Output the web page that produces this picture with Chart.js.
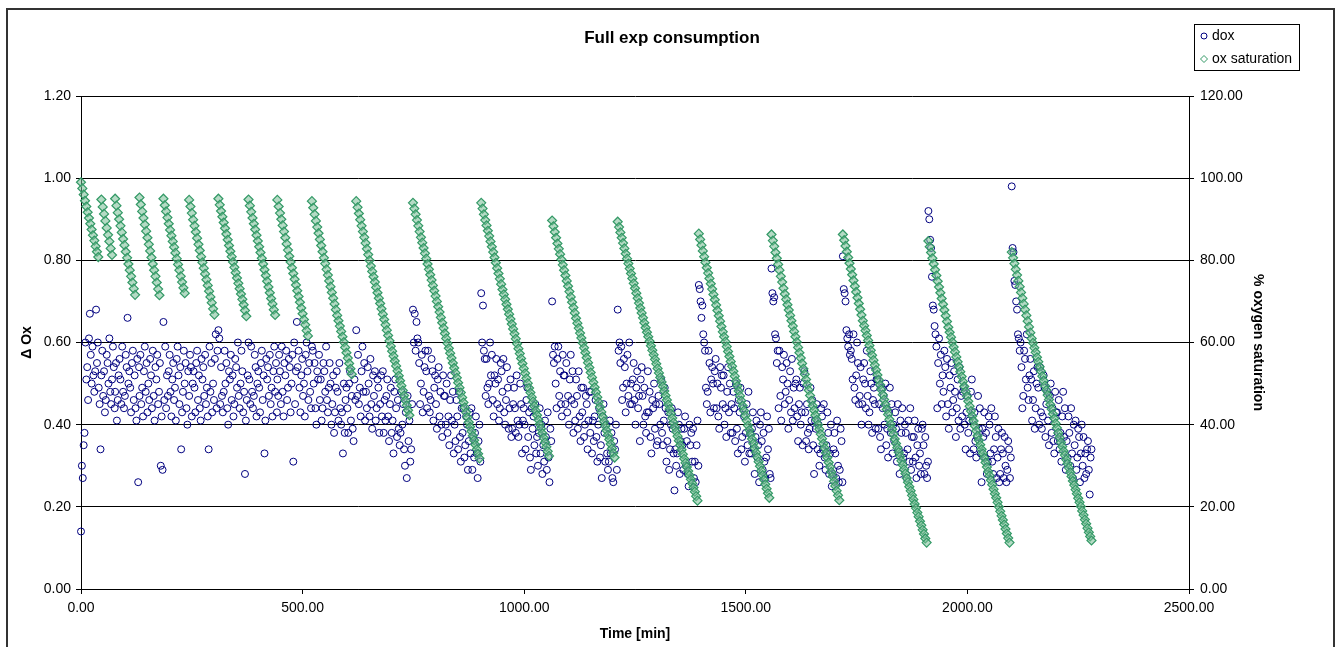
<!DOCTYPE html>
<html>
<head>
<meta charset="utf-8">
<title>Full exp consumption</title>
<script src="https://cdn.jsdelivr.net/npm/chart.js@4.4.1/dist/chart.umd.min.js"></script>
<style>
  html, body { margin: 0; padding: 0; background: #fff; }
  #wrap { width: 1340px; height: 647px; }
</style>
</head>
<body>
<div id="wrap"><canvas id="chart" width="1340" height="647"></canvas></div>
<script>
// Values.
const TITLE = 'Full exp consumption';
const SAT_STEP = 3;   // minutes between plotted saturation readings
const DOX_STEP = 2;   // minutes between plotted dox readings

// start of each measuring cycle [min] (chamber re-oxygenated)
const cycleStart = [0, 46, 77, 132, 186, 244, 310, 378, 443, 521, 621, 749, 903, 1063, 1211, 1394, 1558, 1719, 1912, 2100];

// % oxygen saturation, one list per cycle
const sat01 = [99.0,97.5,96.0,94.5,93.1,91.7,90.3,88.9,87.5,86.1,84.8,83.4,82.1,80.8];
const sat02 = [94.8,93.0,91.3,89.6,87.9,86.2,84.6,82.9,81.3];
const sat03 = [95.0,93.3,91.6,90.0,88.4,86.8,85.2,83.7,82.1,80.6,79.1,77.6,76.1,74.6,73.1,71.6];
const sat04 = [95.3,93.6,91.9,90.3,88.7,87.1,85.5,83.9,82.3,80.7,79.1,77.6,76.1,74.6,73.0,71.5];
const sat05 = [95.0,93.4,91.9,90.4,88.9,87.4,86.0,84.6,83.2,81.8,80.4,79.0,77.6,76.1,74.7,73.3,72.0];
const sat06 = [94.7,93.1,91.5,89.9,88.4,86.9,85.4,83.9,82.4,80.9,79.5,78.1,76.7,75.3,73.9,72.5,71.1,69.7,68.2,66.8];
const sat07 = [95.0,93.5,92.0,90.6,89.2,87.8,86.4,85.0,83.6,82.2,80.9,79.6,78.3,77.0,75.7,74.4,73.1,71.8,70.5,69.2,67.8,66.4];
const sat08 = [94.8,93.3,91.8,90.3,88.9,87.5,86.1,84.7,83.3,81.9,80.5,79.1,77.7,76.3,74.9,73.5,72.1,70.7,69.4,68.0,66.7];
const sat09 = [94.7,93.1,91.5,90.0,88.5,87.0,85.5,84.0,82.5,81.0,79.6,78.2,76.8,75.4,74.0,72.6,71.2,69.8,68.4,67.0,65.6,64.3,62.9,61.6];
const sat10 = [94.4,92.8,91.2,89.6,88.1,86.6,85.1,83.6,82.1,80.6,79.2,77.8,76.4,75.0,73.6,72.2,70.8,69.4,68.0,66.6,
               65.3,64.0,62.7,61.4,60.1,58.8,57.5,56.2,54.9,53.6,52.3];
const sat11 = [94.4,92.9,91.4,89.9,88.4,87.0,85.6,84.2,82.8,81.4,80.0,78.6,77.3,76.0,74.7,73.4,72.1,70.8,69.5,68.2,
               66.9,65.6,64.3,63.0,61.7,60.4,59.1,57.9,56.7,55.5,54.3,53.1,51.9,50.7,49.5,48.3,47.1,45.9,44.7,43.5,42.3];
const sat12 = [94.0,92.6,91.2,89.8,88.4,87.0,85.6,84.3,83.0,81.7,80.4,79.1,77.8,76.5,75.2,73.9,72.6,71.3,70.0,68.7,
               67.4,66.1,64.8,63.5,62.2,61.0,59.8,58.6,57.4,56.2,55.0,53.8,52.6,51.4,50.2,49.0,47.8,46.6,45.4,44.2,
               43.0,41.8,40.6,39.5,38.4,37.3,36.2,35.1,34.0,32.9,31.8];
const sat13 = [94.0,92.6,91.2,89.8,88.5,87.2,85.9,84.6,83.3,82.0,80.7,79.4,78.1,76.8,75.5,74.2,72.9,71.7,70.5,69.3,
               68.1,66.9,65.7,64.5,63.3,62.1,60.9,59.7,58.5,57.3,56.1,54.9,53.7,52.5,51.3,50.1,48.9,47.8,46.7,45.6,
               44.5,43.4,42.3,41.2,40.1,39.0,37.9,36.8,35.7,34.6,33.5,32.4];
const sat14 = [89.7,88.3,86.9,85.5,84.1,82.8,81.5,80.2,78.9,77.6,76.3,75.0,73.7,72.4,71.1,69.8,68.5,67.2,65.9,64.7,
               63.5,62.3,61.1,59.9,58.7,57.5,56.3,55.1,53.9,52.7,51.5,50.3,49.1,47.9,46.7,45.5,44.3,43.1,41.9,40.8,
               39.7,38.6,37.5,36.4,35.3,34.2,33.1,32.0];
const sat15 = [89.4,88.1,86.8,85.5,84.2,82.9,81.6,80.4,79.2,78.0,76.8,75.6,74.4,73.2,72.0,70.8,69.6,68.4,67.2,66.0,
               64.8,63.6,62.5,61.4,60.3,59.2,58.1,57.0,55.9,54.8,53.7,52.6,51.5,50.4,49.3,48.2,47.1,46.0,44.9,43.8,
               42.7,41.6,40.5,39.4,38.3,37.2,36.1,35.0,33.9,32.8,31.7,30.7,29.7,28.7,27.7,26.7,25.7,24.7,23.7,22.6,21.5];
const sat16 = [86.5,85.1,83.7,82.3,80.9,79.5,78.2,76.9,75.6,74.3,73.0,71.7,70.4,69.1,67.8,66.5,65.2,63.9,62.6,61.4,
               60.2,59.0,57.8,56.6,55.4,54.2,53.0,51.8,50.6,49.4,48.2,47.0,45.8,44.6,43.4,42.2,41.0,39.8,38.7,37.6,
               36.5,35.4,34.3,33.2,32.1,31.0,29.9,28.8,27.7,26.6,25.5,24.4,23.3,22.2];
const sat17 = [86.3,84.8,83.4,81.9,80.5,79.0,77.6,76.1,74.7,73.2,71.8,70.5,69.2,67.9,66.6,65.3,64.0,62.7,61.4,60.1,
               58.8,57.5,56.2,54.9,53.6,52.3,51.0,49.7,48.4,47.1,45.8,44.6,43.5,42.3,41.2,40.0,38.9,37.7,36.6,35.4,
               34.3,33.1,32.0,30.8,29.7,28.5,27.4,26.2,25.1,23.9,22.8,21.6];
const sat18 = [86.3,84.9,83.5,82.1,80.7,79.3,77.9,76.5,75.1,73.7,72.3,70.9,69.5,68.1,66.7,65.3,64.1,62.9,61.7,60.5,
               59.3,58.1,56.9,55.7,54.5,53.3,52.1,50.9,49.7,48.5,47.3,46.1,44.9,43.7,42.5,41.3,40.1,38.9,37.7,36.5,
               35.4,34.4,33.3,32.3,31.2,30.2,29.1,28.1,27.0,26.0,24.9,23.9,22.8,21.8,20.7,19.7,18.6,17.6,16.5,15.5,
               14.4,13.4,12.3,11.3];
const sat19 = [84.7,83.3,81.9,80.5,79.1,77.7,76.3,74.9,73.5,72.1,70.7,69.3,67.9,66.5,65.1,63.7,62.5,61.3,60.1,58.9,
               57.7,56.5,55.3,54.1,52.9,51.7,50.5,49.3,48.1,46.9,45.7,44.5,43.3,42.1,40.9,39.7,38.5,37.3,36.2,35.1,
               34.0,33.0,31.9,30.8,29.7,28.6,27.6,26.5,25.4,24.3,23.2,22.2,21.1,20.0,18.9,17.8,16.8,15.7,14.6,13.5,
               12.4,11.3];
const sat20 = [82.0,80.6,79.2,77.8,76.4,75.0,73.6,72.2,70.8,69.4,68.0,66.6,65.2,63.8,62.4,61.0,59.9,58.7,57.6,56.4,
               55.3,54.1,53.0,51.8,50.7,49.5,48.4,47.2,46.1,44.9,43.8,42.6,41.5,40.3,39.2,38.0,36.9,35.7,34.7,33.6,
               32.6,31.5,30.5,29.5,28.4,27.4,26.3,25.3,24.2,23.2,22.1,21.1,20.1,19.0,18.0,16.9,15.9,14.8,13.8,12.8,11.8];

// dox (delta Ox) per cycle, in hundredths
const dox01 = [14,30,27,35,38,60,51,54,46,61,67,57,50,59,52,48,53,68,55,60,49,45,34];
const dox02 = [52,58,47,53,43,46,57,55,50,61,48,45,51,59,54,44];
const dox03 = [48,55,41,46,52,56,51,45,59,48,44,47,57,54,66,50,53,49,43,55,58,46,52,44,41,56,26,54];
const dox04 = [47,57,45,49,42,53,59,48,55,43,50,46,56,52,44,58,47,41,54,51,57,45,48,55,30,42,29];
const dox05 = [65,46,59,44,52,47,53,57,48,42,51,55,46,49,41,56,59,52,45,54,34,43,48,58,50,55,44,40,53];
const dox06 = [47,57,54,42,50,53,49,43,55,58,46,52,44,41,56,51,54,47,57,45,49,42,34,59,48,55,43,50,46,56,62,44,58];
const dox07 = [63,61,45,54,47,43,48,58,50,55,44,40,53,51,57,46,52,42,45,56,54,49,60,47,44,50,58,53,43,48,28,41,46,52];
const dox08 = [60,51,45,59,48,44,47,57,54,42,50,53,49,43,55,58,46,52,33,41,56,51,54,47,57,45,49,42,53,59,48,55,43];
const dox09 = [51,47,57,53,45,59,48,42,55,52,58,46,49,56,54,43,50,57,31,60,45,53,65,54,58,49,43,52,56,47,50,42,57,60,53,46,55,48,44];
const dox10 = [59,58,50,55,44,40,53,51,57,46,51,41,44,55,53,48,59,46,43,49,55,50,40,45,52,38,43,49,53,48,
               41,55,44,40,43,33,50,38,46,49,44,38,50,53,41,47,39,36,51,46];
const dox11 = [63,47,57,45,49,42,53,59,48,55,41,48,44,54,50,42,56,45,39,52,47,53,41,44,51,49,38,45,52,42,
               53,38,46,41,47,51,42,36,45,49,38,41,33,48,51,44,37,46,39,35,38,48,40,45,34,30,43,27,47,36,41,31,34,45];
const dox12 = [68,60,67,58,65,61,60,55,45,50,57,43,48,54,58,53,44,58,47,43,46,56,53,41,49,52,45,39,51,54,
               42,48,40,37,52,47,47,40,50,38,42,35,46,52,41,48,33,40,36,46,42,34,48,37,31,44,38,44,32,35,
               42,40,29,36,43,33,44,29,37,32,38,42,33,27,36,40,31];
const dox13 = [72,60,69,58,56,47,56,49,45,50,60,52,57,46,42,52,50,56,45,51,41,44,55,53,48,56,43,40,46,54,
               49,39,44,51,37,39,45,49,44,38,52,41,37,40,50,45,33,41,44,40,34,46,49,37,43,32,29,44,39,42,
               35,45,33,37,30,38,44,33,40,28,35,31,41,37,29,43,32,26,39,36];
const dox14 = [70,57,55,59,50,44,56,59,47,53,45,42,57,52,52,45,55,43,47,40,51,57,46,53,38,45,41,51,47,39,
               53,42,36,49,43,49,37,40,47,45,34,41,48,38,48,33,41,36,42,46,37,31,40,44,32,35,27,42,45,38,
               31,40,33,29,31,41,33,38,27,26,36,34,40,29];
const dox15 = [68,58,60,55,59,46,49,56,54,43,50,57,47,60,45,50,45,51,55,46,40,49,53,44,47,36,51,54,47,40,
               49,42,38,43,53,43,48,37,33,46,44,50,39,45,35,36,47,45,40,51,38,35,41,49,44,31,36,43,29,34,
               40,44,39,33,24,34,30,33,43,40,28,36,39,35,29,39,42,30,36,28,25,40,35,38,31,39,27,31,26,35,41,30];
const dox16 = [74,73,70,66,69,62,60,58,49,45,48,58,55,43,51,54,50,44,53,56,44,50,42,39,54,49,52,45,52,40,
               44,37,48,54,43,50,38,45,38,48,44,36,50,39,33,46,43,49,34,37,44,42,31,38,45,35,48,33,38,33,
               39,43,34,28,37,41,32,35,26,40,43,36,29,38,31,27,32,42,34,39,28,27];
const dox17 = [78,72,70,71,62,61,55,58,44,58,47,41,54,51,57,45,48,55,50,39,46,53,43,56,41,49,44,50,51,42,
               36,45,49,40,43,35,50,53,43,36,45,38,34,39,49,41,46,35,28,41,39,45,34,40,30,33,44,42,34,45,
               32,29,35,43,38,28,33,40,25,28,34,38,33,27,41,30,26,29,39,36,26];
const dox18 = [81,73,72,70,63,61,59,62,57,58,56,51,62,49,46,52,60,55,45,47,54,40,45,51,55,50,44,58,47,40,
               43,53,50,38,46,49,45,39,51,51,39,45,37,34,49,44,47,40,50,35,39,32,43,49,38,45,33,40,36,43,
               39,31,45,34,28,41,38,44,32,33,40,38,27,34,41,31,44,29,37,31,37,41,32,27,35,39,30,33,28,39,
               40,35,28,37,30,27,31];
const dox19 = [92,90,85,83,76,69,68,64,62,59,44,55,61,50,57,45,52,48,58,54,42,56,45,39,52,49,55,43,46,53,
               48,37,44,51,41,54,39,47,42,48,49,40,34,43,47,38,41,33,48,51,41,34,43,36,32,37,47,39,44,33,
               26,39,37,43,32,38,28,31,42,40,33,44,31,28,34,42,37,27,32,39,26,28,34,38,33,27,37,30,26,29,
               36,34,27,32];
const dox20 = [98,83,82,75,74,70,68,62,61,58,60,54,44,47,58,56,51,62,49,46,52,56,51,41,46,53,39,44,50,54,
               49,40,54,43,39,42,52,49,37,45,48,41,35,47,50,38,44,36,33,48,43,43,36,46,34,38,31,42,48,37,
               44,29,36,32,42,38,30,44,33,27,40,35,41,29,32,39,37,26,33,40,30,37,27,33,28,34,36,29,23,32,34];

const satCycles = [sat01, sat02, sat03, sat04, sat05, sat06, sat07, sat08, sat09, sat10,
                   sat11, sat12, sat13, sat14, sat15, sat16, sat17, sat18, sat19, sat20];
const doxCycles = [dox01, dox02, dox03, dox04, dox05, dox06, dox07, dox08, dox09, dox10,
                   dox11, dox12, dox13, dox14, dox15, dox16, dox17, dox18, dox19, dox20];

// Turn per-cycle readings into {x, y} points on the time grid
function toPoints(cycles, step, factor) {
    const pts = [];
    cycles.forEach((vals, c) => {
        vals.forEach((v, i) => pts.push({ x: cycleStart[c] + i * step, y: v * factor }));
    });
    return pts;
}

const FONT = '"Liberation Sans", Arial, Helvetica, sans-serif';
const DOX_COLOR = '#000080';
const SAT_COLOR = '#339966';

Chart.defaults.font.family = FONT;
Chart.defaults.font.size = 14;
Chart.defaults.color = '#000';

// Background, outer frame, title and the boxed legend (Excel style)
const excelFrame = {
    id: 'excelFrame',
    beforeDraw(chart) {
        const ctx = chart.ctx;
        ctx.save();
        ctx.fillStyle = '#fff';
        ctx.fillRect(0, 0, chart.width, chart.height);
        ctx.restore();
    },
    afterDraw(chart) {
        const ctx = chart.ctx;
        ctx.save();
        ctx.strokeStyle = '#333';
        ctx.lineWidth = 2;
        ctx.strokeRect(7, 9, 1327, 660);

        ctx.fillStyle = '#000';
        ctx.font = 'bold 17px ' + FONT;
        ctx.textAlign = 'center';
        ctx.textBaseline = 'middle';
        ctx.fillText(TITLE, 672, 38);

        // legend box
        ctx.strokeStyle = '#000';
        ctx.lineWidth = 1;
        ctx.strokeRect(1194.5, 24.5, 105, 46);
        ctx.font = '14px ' + FONT;
        ctx.textAlign = 'left';
        chart.data.datasets.forEach((ds, i) => {
            const y = 36 + i * 23;
            const x = 1204;
            ctx.strokeStyle = ds.borderColor;
            ctx.beginPath();
            if (ds.pointStyle === 'rectRot') {
                ctx.moveTo(x, y - 3.5);
                ctx.lineTo(x + 3.5, y);
                ctx.lineTo(x, y + 3.5);
                ctx.lineTo(x - 3.5, y);
                ctx.closePath();
            } else {
                ctx.arc(x, y, 3, 0, Math.PI * 2);
            }
            ctx.stroke();
            ctx.fillStyle = '#000';
            ctx.fillText(ds.label, 1212, y);
        });
        ctx.restore();
    }
};

new Chart(document.getElementById('chart'), {
    type: 'scatter',
    data: {
        datasets: [
            {
                label: 'dox',
                yAxisID: 'y',
                data: toPoints(doxCycles, DOX_STEP, 0.01),
                pointStyle: 'circle',
                pointRadius: 3.5,
                pointBorderWidth: 1,
                borderColor: DOX_COLOR,
                backgroundColor: 'rgba(0,0,0,0)',
                order: 2,
                clip: 6
            },
            {
                label: 'ox saturation',
                yAxisID: 'y2',
                data: toPoints(satCycles, SAT_STEP, 1),
                pointStyle: 'rectRot',
                pointRadius: 4.5,
                pointBorderWidth: 1.2,
                borderColor: SAT_COLOR,
                backgroundColor: 'rgba(120,190,150,0.55)',
                order: 1,
                clip: 6
            }
        ]
    },
    options: {
        responsive: false,
        animation: false,
        devicePixelRatio: 1,
        layout: { padding: { left: 7, right: 6, top: 96, bottom: 0 } },
        plugins: {
            legend: { display: false },
            title: { display: false },
            tooltip: { enabled: false }
        },
        scales: {
            x: {
                type: 'linear',
                min: 0,
                max: 2500,
                ticks: {
                    stepSize: 500,
                    padding: 6,
                    maxRotation: 0,
                    callback: v => v.toFixed(2)
                },
                grid: { drawOnChartArea: false, tickLength: 5, color: '#000' },
                border: { display: true, color: '#000', width: 1 },
                title: {
                    display: true,
                    text: 'Time [min]',
                    font: { weight: 'bold', size: 14 },
                    padding: { top: 0, bottom: 4 }
                },
                afterFit(axis) { axis.height = 58; }
            },
            y: {
                position: 'left',
                min: 0,
                max: 1.2,
                ticks: {
                    stepSize: 0.2,
                    padding: 5,
                    callback: v => v.toFixed(2)
                },
                grid: { color: '#000', lineWidth: 1, tickLength: 5 },
                border: { display: true, color: '#000', width: 1 },
                title: {
                    display: true,
                    text: 'Δ Ox',
                    font: { weight: 'bold', size: 14 },
                    padding: { top: 12, bottom: 0 }
                },
                afterFit(axis) { axis.width = 74; }
            },
            y2: {
                position: 'right',
                min: 0,
                max: 120,
                ticks: {
                    stepSize: 20,
                    padding: 6,
                    callback: v => v.toFixed(2)
                },
                grid: { drawOnChartArea: false, tickLength: 5, color: '#000' },
                border: { display: true, color: '#000', width: 1 },
                title: {
                    display: true,
                    text: '% oxygen saturation',
                    font: { weight: 'bold', size: 14 },
                    padding: { top: 68, bottom: 0 }
                },
                afterFit(axis) { axis.width = 145; }
            }
        }
    },
    plugins: [excelFrame]
});
</script>
</body>
</html>
